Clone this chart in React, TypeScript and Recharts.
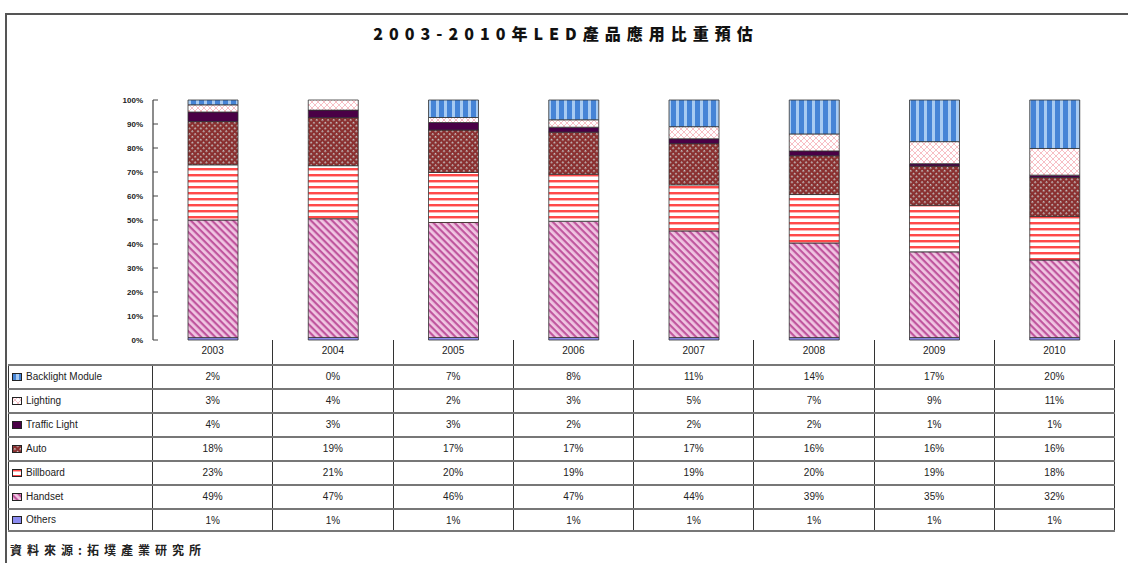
import { BarChart, Bar, XAxis, YAxis } from 'recharts';

const years = ['2003', '2004', '2005', '2006', '2007', '2008', '2009', '2010'];
const backlight = [2, 0, 7, 8, 11, 14, 17, 20];
const lighting = [3, 4, 2, 3, 5, 7, 9, 11];
const traffic = [4, 3, 3, 2, 2, 2, 1, 1];
const auto = [18, 19, 17, 17, 17, 16, 16, 16];
const billboard = [23, 21, 20, 19, 19, 20, 19, 18];
const handset = [49, 47, 46, 47, 44, 39, 35, 32];
const others = [1, 1, 1, 1, 1, 1, 1, 1];
const yTicks = [0, 0.1, 0.2, 0.3, 0.4, 0.5, 0.6, 0.7, 0.8, 0.9, 1];

// table order, top to bottom (stack is drawn in reverse)
const series = [
  { key: 'backlight', name: 'Backlight Module', values: backlight, fill: 'url(#pBack)' },
  { key: 'lighting', name: 'Lighting', values: lighting, fill: 'url(#pLight)' },
  { key: 'traffic', name: 'Traffic Light', values: traffic, fill: '#4a0046' },
  { key: 'auto', name: 'Auto', values: auto, fill: 'url(#pAuto)' },
  { key: 'billboard', name: 'Billboard', values: billboard, fill: 'url(#pBill)' },
  { key: 'handset', name: 'Handset', values: handset, fill: 'url(#pHand)' },
  { key: 'others', name: 'Others', values: others, fill: '#8c8cf0' },
];

const data = years.map((year, i) => {
  const row: Record<string, any> = { year };
  series.forEach((s) => (row[s.key] = s.values[i]));
  return row;
});

const AXIS_X = 153;
const RIGHT = 1115;
const BAND = (RIGHT - AXIS_X) / years.length;
const FONT = '"Liberation Sans", Arial, sans-serif';

const YTick = ({ x, y, payload }: any) => (
  <g>
    <text x={x} y={y} dy={3} textAnchor="end" fontSize={8} fontWeight="bold" fontFamily={FONT} fill="#222">
      {Math.round(payload.value * 100)}%
    </text>
    <line x1={x + 10} x2={x + 15} y1={y} y2={y} stroke="#444" />
  </g>
);

const Patterns = () => (
  <defs>
    <pattern id="pBack" width="8" height="8" patternUnits="userSpaceOnUse">
      <rect width="8" height="8" fill="#4684d6" />
      <rect x="4" width="3" height="8" fill="#a8cbf2" />
    </pattern>
    <pattern id="pLight" width="6" height="6" patternUnits="userSpaceOnUse">
      <rect width="6" height="6" fill="#fff" />
      <path d="M0 0L6 6M6 0L0 6" stroke="#f4a4ac" strokeWidth="0.7" />
    </pattern>
    <pattern id="pAuto" width="4" height="4" patternUnits="userSpaceOnUse" patternTransform="rotate(45)">
      <rect width="4" height="4" fill="#8a3030" />
      <rect width="1.6" height="1.6" fill="#c9cfcf" />
    </pattern>
    <pattern id="pBill" width="6" height="6" patternUnits="userSpaceOnUse">
      <rect width="6" height="6" fill="#fff" />
      <rect y="0" width="6" height="2" fill="#ff4a4a" />
      <rect y="2" width="6" height="1" fill="#ffb0b0" />
    </pattern>
    <pattern id="pHand" width="5" height="5" patternUnits="userSpaceOnUse" patternTransform="rotate(45)">
      <rect width="5" height="5" fill="#f0c6e2" />
      <rect width="5" height="2.2" fill="#c0569e" />
    </pattern>
  </defs>
);

const cellBase: React.CSSProperties = {
  width: BAND,
  boxSizing: 'border-box',
  textAlign: 'center',
  borderRight: '1px solid #333',
};

export default function App() {
  return (
    <div style={{ position: 'absolute', left: 0, top: 0, width: 1128, height: 563, background: '#fff', overflow: 'hidden', fontFamily: FONT }}>
      <div style={{ position: 'absolute', left: 5, top: 13, width: 1123, height: 560, borderTop: '2px solid #555', borderLeft: '2px solid #555' }} />
      <div style={{ position: 'absolute', left: 0, top: 21, width: 1132, textAlign: 'center', fontFamily: '"Noto Sans CJK TC", sans-serif', fontWeight: 900, fontSize: 16, letterSpacing: 6, color: '#111' }}>
        2003-2010年LED產品應用比重預估
      </div>

      <div style={{ position: 'absolute', left: 0, top: 0 }}>
        <BarChart
          width={1128}
          height={346}
          data={data}
          stackOffset="expand"
          barSize={50}
          margin={{ top: 100, right: 1128 - RIGHT, bottom: 6, left: AXIS_X - 50 }}
        >
          <Patterns />
          <XAxis dataKey="year" hide />
          <YAxis
            width={50}
            domain={[0, 1]}
            ticks={yTicks}
            tick={<YTick />}
            tickLine={false}
            tickSize={0}
            tickMargin={10}
            axisLine={{ stroke: '#666', strokeWidth: 1.5 }}
            interval={0}
          />
          {[...series].reverse().map((s) => (
            <Bar key={s.key} dataKey={s.key} name={s.name} stackId="a" fill={s.fill} stroke="#333" strokeWidth={0.8} isAnimationActive={false} />
          ))}
        </BarChart>
      </div>

      <div style={{ position: 'absolute', left: 8, top: 340, fontSize: 10, color: '#222' }}>
        <div style={{ display: 'flex', height: 24, lineHeight: '22px' }}>
          <div style={{ width: AXIS_X - 8 }} />
          {years.map((y) => (
            <div key={y} style={cellBase}>{y}</div>
          ))}
        </div>
        {series.map((s, r) => (
          <div
            key={s.key}
            style={{
              display: 'flex',
              height: 24,
              lineHeight: '22px',
              boxSizing: 'border-box',
              width: RIGHT - 8,
              borderTop: '2px solid #777',
              borderBottom: r === series.length - 1 ? '2px solid #777' : undefined,
            }}
          >
            <div style={{ width: AXIS_X - 8, boxSizing: 'border-box', borderLeft: '1px solid #333', borderRight: '1px solid #333', paddingLeft: 3, whiteSpace: 'nowrap', display: 'flex', alignItems: 'center' }}>
              <svg width={10} height={8} style={{ marginRight: 4 }}>
                <rect x={0.5} y={0.5} width={9} height={7} fill={s.fill} stroke="#222" strokeWidth={1} />
              </svg>
              {s.name}
            </div>
            {s.values.map((v, i) => (
              <div key={i} style={cellBase}>{v}%</div>
            ))}
          </div>
        ))}
      </div>

      <div style={{ position: 'absolute', left: 10, top: 541, fontFamily: '"Noto Sans CJK TC", sans-serif', fontWeight: 700, fontSize: 12, letterSpacing: 5, color: '#222' }}>
        資料來源:拓墣產業研究所
      </div>
    </div>
  );
}
